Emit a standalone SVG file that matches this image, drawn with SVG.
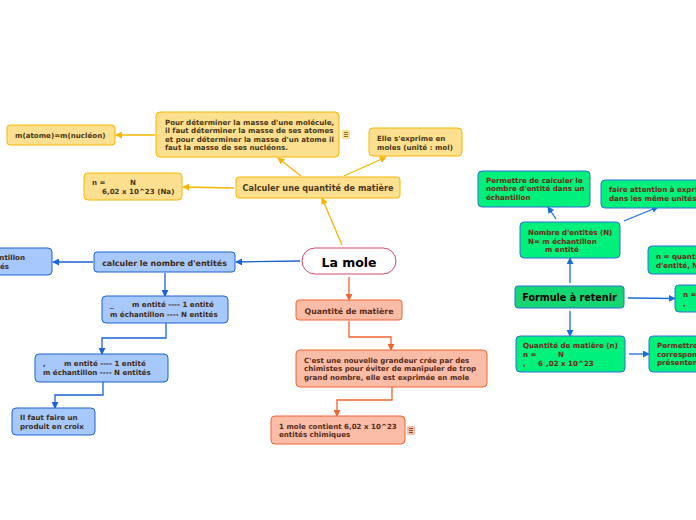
<svg xmlns="http://www.w3.org/2000/svg" width="696" height="520" viewBox="0 0 696 520">
<defs>
<style>
text{font-family:"DejaVu Sans","Verdana",sans-serif;font-weight:bold;font-size:7.1px}
.y{fill:#fde08f;stroke:#f7b500;stroke-width:1}
.b{fill:#a6c8fa;stroke:#1a62d6;stroke-width:1}
.o{fill:#f9bca6;stroke:#f2632e;stroke-width:1}
.g{fill:#00f07c;stroke:#2d6fd6;stroke-width:1}
.ty{fill:#4a3518}
.tb{fill:#3e2a18}
.to{fill:#5a2a18}
.tg{fill:#6a2a15}
.cy{stroke:#f7b500;stroke-width:1.3;fill:none;marker-end:url(#ay)}
.cb{stroke:#1a62d6;stroke-width:1.3;fill:none;marker-end:url(#ab)}
.co{stroke:#f2632e;stroke-width:1.3;fill:none;marker-end:url(#ao)}
.cg{stroke:#1a6fd6;stroke-width:1.3;fill:none;marker-end:url(#ag)}
</style>
<marker id="ay" viewBox="0 0 8 8" refX="7" refY="4" markerWidth="7" markerHeight="7" markerUnits="userSpaceOnUse" orient="auto"><path d="M0,0L8,4L0,8z" fill="#f7b500"/></marker>
<marker id="ab" viewBox="0 0 8 8" refX="7" refY="4" markerWidth="7" markerHeight="7" markerUnits="userSpaceOnUse" orient="auto"><path d="M0,0L8,4L0,8z" fill="#1a62d6"/></marker>
<marker id="ao" viewBox="0 0 8 8" refX="7" refY="4" markerWidth="7" markerHeight="7" markerUnits="userSpaceOnUse" orient="auto"><path d="M0,0L8,4L0,8z" fill="#f2632e"/></marker>
<marker id="ag" viewBox="0 0 8 8" refX="7" refY="4" markerWidth="7" markerHeight="7" markerUnits="userSpaceOnUse" orient="auto"><path d="M0,0L8,4L0,8z" fill="#1a6fd6"/></marker>
</defs>
<rect width="696" height="520" fill="#ffffff"/>

<g id="connectors">
<line class="cy" x1="342" y1="245" x2="322" y2="198"/>
<line class="cy" x1="301" y1="176" x2="278" y2="158"/>
<line class="cy" x1="344" y1="176" x2="386" y2="157"/>
<line class="cy" x1="234" y1="188" x2="183" y2="187"/>
<line class="cy" x1="155" y1="135" x2="116" y2="135"/>
<line class="cb" x1="300" y1="261" x2="236" y2="262"/>
<line class="cb" x1="93" y1="262" x2="53" y2="262"/>
<line class="cb" x1="165" y1="273" x2="165" y2="296"/>
<path class="cb" d="M166,323V338H102V354"/>
<path class="cb" d="M103,382V395H55V408"/>
<line class="co" x1="349" y1="277" x2="349" y2="300"/>
<path class="co" d="M349,321V337H391V350"/>
<path class="co" d="M392,387V400H337V416"/>
<line class="cg" x1="570" y1="283" x2="570" y2="258"/>
<line class="cg" x1="556" y1="219" x2="548" y2="207"/>
<line class="cg" x1="624" y1="221" x2="658" y2="207"/>
<line class="cg" x1="628" y1="298" x2="675" y2="298.5"/>
<line class="cg" x1="570" y1="311" x2="570" y2="336"/>
<line class="cg" x1="629" y1="354" x2="649" y2="354"/>
</g>

<g id="la-mole">
<rect x="302" y="248" width="94" height="26" rx="13" fill="#ffffff" stroke="#d44a6a" stroke-width="1"/>
<text x="349" y="266.5" text-anchor="middle" style="font-size:12.5px" fill="#000">La mole</text>
</g>

<g id="calculer-quantite">
<rect class="y" x="236" y="177" width="164" height="21" rx="3"/>
<text class="ty" x="318" y="191" text-anchor="middle" style="font-size:8.1px">Calculer une quantité de matière</text>
</g>
<g id="pour-determiner">
<rect class="y" x="156" y="112" width="183" height="45" rx="4"/>
<text class="ty" x="165" y="124.5">Pour déterminer la masse d'une molécule,</text>
<text class="ty" x="165" y="133">il faut déterminer la masse de ses atomes</text>
<text class="ty" x="165" y="141.5">et pour déterminer la masse d'un atome il</text>
<text class="ty" x="165" y="150">faut la masse de ses nucléons.</text>
</g>
<g id="note-icon-1">
<rect x="342" y="130" width="8" height="9" rx="1" fill="#fde08f"/>
<path d="M344,132.5h4M344,134.5h4M344,136.5h4" stroke="#6a5020" stroke-width="0.8"/>
</g>
<g id="elle-exprime">
<rect class="y" x="369" y="128" width="93" height="28" rx="4"/>
<text class="ty" x="377" y="140.5">Elle s'exprime en</text>
<text class="ty" x="377" y="149.5">moles (unité : mol)</text>
</g>
<g id="m-atome">
<rect class="y" x="7" y="125" width="108" height="20" rx="3"/>
<text class="ty" x="15" y="137.5">m(atome)=m(nucléon)</text>
</g>
<g id="n-formule-na">
<rect class="y" x="84" y="173" width="98" height="27" rx="4"/>
<text class="ty" x="92" y="185">n =</text>
<text class="ty" x="130" y="185">N</text>
<text class="ty" x="102" y="194">6,02 x 10^23 (Na)</text>
</g>

<g id="calculer-nombre">
<rect class="b" x="94" y="252" width="141" height="20" rx="3"/>
<text class="tb" x="164.5" y="265.5" text-anchor="middle" style="font-size:7.9px">calculer le nombre d'entités</text>
</g>
<g id="n-echantillon">
<rect class="b" x="-10" y="248" width="62" height="27" rx="4"/>
<text class="tb" x="25" y="260" text-anchor="end">N = m échantillon</text>
<text class="tb" x="9" y="269" text-anchor="end">m entités</text>
</g>
<g id="proportion-1">
<rect class="b" x="102" y="296" width="126" height="27" rx="4"/>
<text class="tb" x="110" y="307">_</text>
<text class="tb" x="132" y="307">m entité ---- 1 entité</text>
<text class="tb" x="110" y="316.5">m échantillon ---- N entités</text>
</g>
<g id="proportion-2">
<rect class="b" x="35" y="354" width="133" height="28" rx="4"/>
<text class="tb" x="43" y="366">,</text>
<text class="tb" x="64" y="366">m entité ---- 1 entité</text>
<text class="tb" x="43" y="375">m échantillon ---- N entités</text>
</g>
<g id="produit-croix">
<rect class="b" x="12" y="408" width="83" height="27" rx="4"/>
<text class="tb" x="20" y="419.5">Il faut faire un</text>
<text class="tb" x="20" y="428.5">produit en croix</text>
</g>

<g id="quantite-matiere">
<rect class="o" x="296" y="300" width="106" height="20" rx="3"/>
<text class="to" x="349" y="313.5" text-anchor="middle" style="font-size:7.8px">Quantité de matière</text>
</g>
<g id="nouvelle-grandeur">
<rect class="o" x="296" y="350" width="191" height="37" rx="4"/>
<text class="to" x="304" y="362.5">C'est une nouvelle grandeur crée par des</text>
<text class="to" x="304" y="371">chimistes pour éviter de manipuler de trop</text>
<text class="to" x="304" y="379.5">grand nombre, elle est exprimée en mole</text>
</g>
<g id="une-mole">
<rect class="o" x="271" y="416" width="134" height="28" rx="4"/>
<text class="to" x="279" y="428.5">1 mole contient 6,02 x 10^23</text>
<text class="to" x="279" y="437">entités chimiques</text>
</g>
<g id="note-icon-2">
<rect x="407" y="426" width="8" height="9" rx="1" fill="#f9bca6"/>
<path d="M409,428.5h4M409,430.5h4M409,432.5h4" stroke="#6a3020" stroke-width="0.8"/>
</g>

<g id="formule">
<rect x="515" y="286" width="109" height="22" rx="3" fill="#14d672" stroke="#2d6fd6" stroke-width="1"/>
<text x="569.5" y="301" text-anchor="middle" style="font-size:9.6px" fill="#000">Formule à retenir</text>
</g>
<g id="nombre-entites">
<rect class="g" x="520" y="222" width="100" height="36" rx="4"/>
<text class="tg" x="528" y="234.5">Nombre d'entités (N)</text>
<text class="tg" x="528" y="243.5">N=  m échantillon</text>
<text class="tg" x="545" y="252">m entité</text>
</g>
<g id="permettre-calculer">
<rect class="g" x="478" y="171" width="112" height="36" rx="4"/>
<text class="tg" x="486" y="182.5">Permettre de calculer le</text>
<text class="tg" x="486" y="191">nombre d'entité dans un</text>
<text class="tg" x="486" y="199.5">échantillon</text>
</g>
<g id="faire-attention">
<rect class="g" x="601" y="180" width="100" height="28" rx="4"/>
<text class="tg" x="609" y="191.5">faire attention à exprimer</text>
<text class="tg" x="609" y="200.5">dans les même unités</text>
</g>
<g id="n-quantite">
<rect class="g" x="648" y="246" width="55" height="28" rx="4"/>
<text class="tg" x="656" y="258.5">n = quantité de matière</text>
<text class="tg" x="656" y="267.5">d'entité, N = nombre</text>
</g>
<g id="n-egal">
<rect class="g" x="675" y="285" width="30" height="27" rx="4"/>
<text class="tg" x="683" y="297">n = m</text>
<text class="tg" x="683" y="306">,</text>
</g>
<g id="quantite-n">
<rect class="g" x="516" y="336" width="109" height="36" rx="4"/>
<text class="tg" x="523" y="348">Quantité de matière (n)</text>
<text class="tg" x="523" y="356.5">n =</text>
<text class="tg" x="558" y="356.5">N</text>
<text class="tg" x="523" y="365.5">,</text>
<text class="tg" x="538" y="365.5">6</text>
<text class="tg" x="546" y="365.5">,02 x 10^23</text>
</g>
<g id="permettre-2">
<rect class="g" x="649" y="336" width="55" height="36" rx="4"/>
<text class="tg" x="657" y="348">Permettre de</text>
<text class="tg" x="657" y="356.5">correspondant</text>
<text class="tg" x="657" y="365">présentent</text>
</g>
</svg>
